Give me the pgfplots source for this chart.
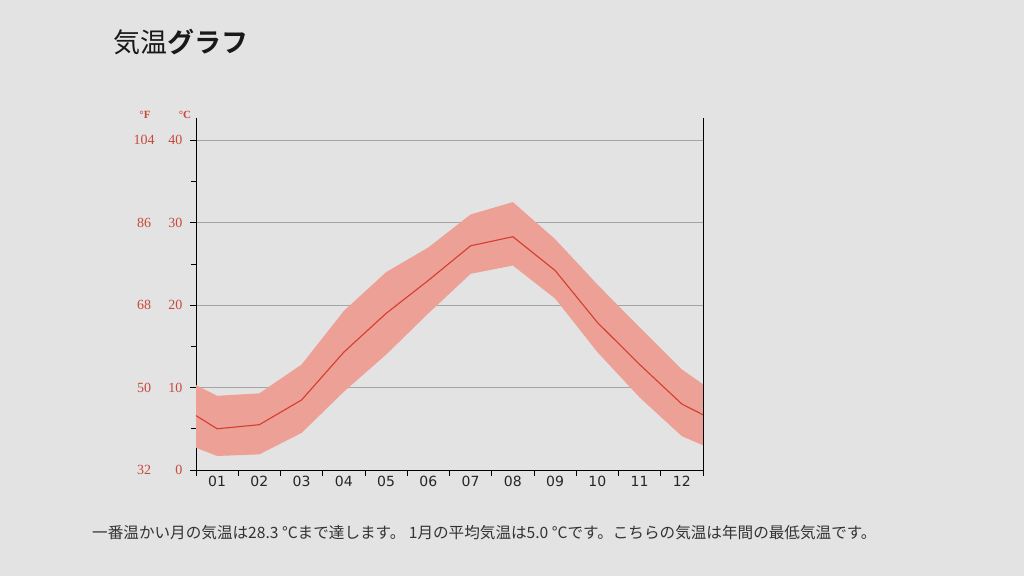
\documentclass[border=0pt]{standalone}
\usepackage{pgfplots}
\pgfplotsset{compat=1.18}
\usepackage{fontspec}
\setmainfont{Liberation Serif}
\newfontfamily\jp{Noto Sans CJK JP}
\newfontfamily\jpb{Noto Sans CJK JP Bold}
\newfontfamily\dv{DejaVu Sans}
\definecolor{bg}{RGB}{227,227,227}
\definecolor{tred}{RGB}{200,72,60}
\definecolor{lred}{RGB}{214,60,48}
\definecolor{band}{RGB}{236,160,150}
\definecolor{gridc}{RGB}{165,165,165}
\begin{document}
\begin{tikzpicture}[x=1pt,y=1pt]
\path[use as bounding box,fill=bg] (0,0) rectangle (1024,576);
\node[anchor=west,font=\fontsize{27}{30}\selectfont,text=black!90,inner sep=0pt] at (113,534) {{\jp 気温}{\jpb グラフ}};
\node[anchor=west,font=\jp\fontsize{15.6}{18}\selectfont,text=black!80,inner sep=0pt] at (92,43) {一番温かい月の気温は28.3 °Cまで達します。 1月の平均気温は5.0 °Cです。こちらの気温は年間の最低気温です。};
\begin{axis}[
  at={(196pt,106pt)}, anchor=south west,
  scale only axis, width=507pt, height=352pt,
  xmin=0.5, xmax=12.5, ymin=0, ymax=42.7,
  axis x line*=bottom, axis y line*=left,
  axis line style={black, line width=0.9pt},
  tick align=outside,
  xtick={0.5,1.5,...,12.5}, xticklabels={},
  extra x ticks={1,2,3,4,5,6,7,8,9,10,11,12},
  extra x tick labels={01,02,03,04,05,06,07,08,09,10,11,12},
  extra x tick style={major tick length=0pt, grid=none},
  xticklabel style={font=\dv\fontsize{14}{16}\selectfont, text=black!85, yshift=-3pt},
  ytick={0,10,20,30,40}, minor ytick={5,15,25,35},
  major tick length=6pt, minor tick length=5pt,
  tick style={black, line width=0.8pt},
  ymajorgrids, major grid style={gridc, line width=0.8pt},
  yticklabel style={font=\fontsize{14}{16}\selectfont, text=tred, xshift=-4pt},
  /pgf/number format/assume math mode=true,
  clip=false,
]
\addplot[draw=none, fill=band] coordinates {
 (0.5,10.3) (1,9.0) (2,9.3) (3,12.8) (4,19.3) (5,24.0) (6,27.0) (7,31.0) (8,32.5) (9,28.0) (10,22.5) (11,17.3) (12,12.2) (12.5,10.4)
 (12.5,3.0) (12,4.1) (11,8.8) (10,14.3) (9,20.8) (8,24.8) (7,23.8) (6,19.0) (5,14.0) (4,9.5) (3,4.5) (2,1.9) (1,1.7) (0.5,2.7)
} -- cycle;
\addplot[lred, line width=1.1pt] coordinates {
 (0.5,6.6) (1,5.0) (2,5.5) (3,8.5) (4,14.3) (5,19.0) (6,23.0) (7,27.2) (8,28.3) (9,24.2) (10,17.9) (11,12.8) (12,8.0) (12.5,6.7)
};
\draw[black, line width=0.9pt] (rel axis cs:1,0) -- (rel axis cs:1,1);
\foreach \c/\f in {0/32,10/50,20/68,30/86,40/104}{
  \edef\tmp{\noexpand\node[font=\noexpand\fontsize{14}{16}\noexpand\selectfont, text=tred] at (axis cs:0.5,\c) [xshift=-52pt] {\f};}
  \tmp
}
\node[font=\fontsize{11}{13}\selectfont\bfseries, text=tred] at (axis cs:0.5,42.7) [xshift=-51pt,yshift=3pt] {°F};
\node[font=\fontsize{11}{13}\selectfont\bfseries, text=tred] at (axis cs:0.5,42.7) [xshift=-11pt,yshift=3pt] {°C};
\end{axis}
\end{tikzpicture}
\end{document}
